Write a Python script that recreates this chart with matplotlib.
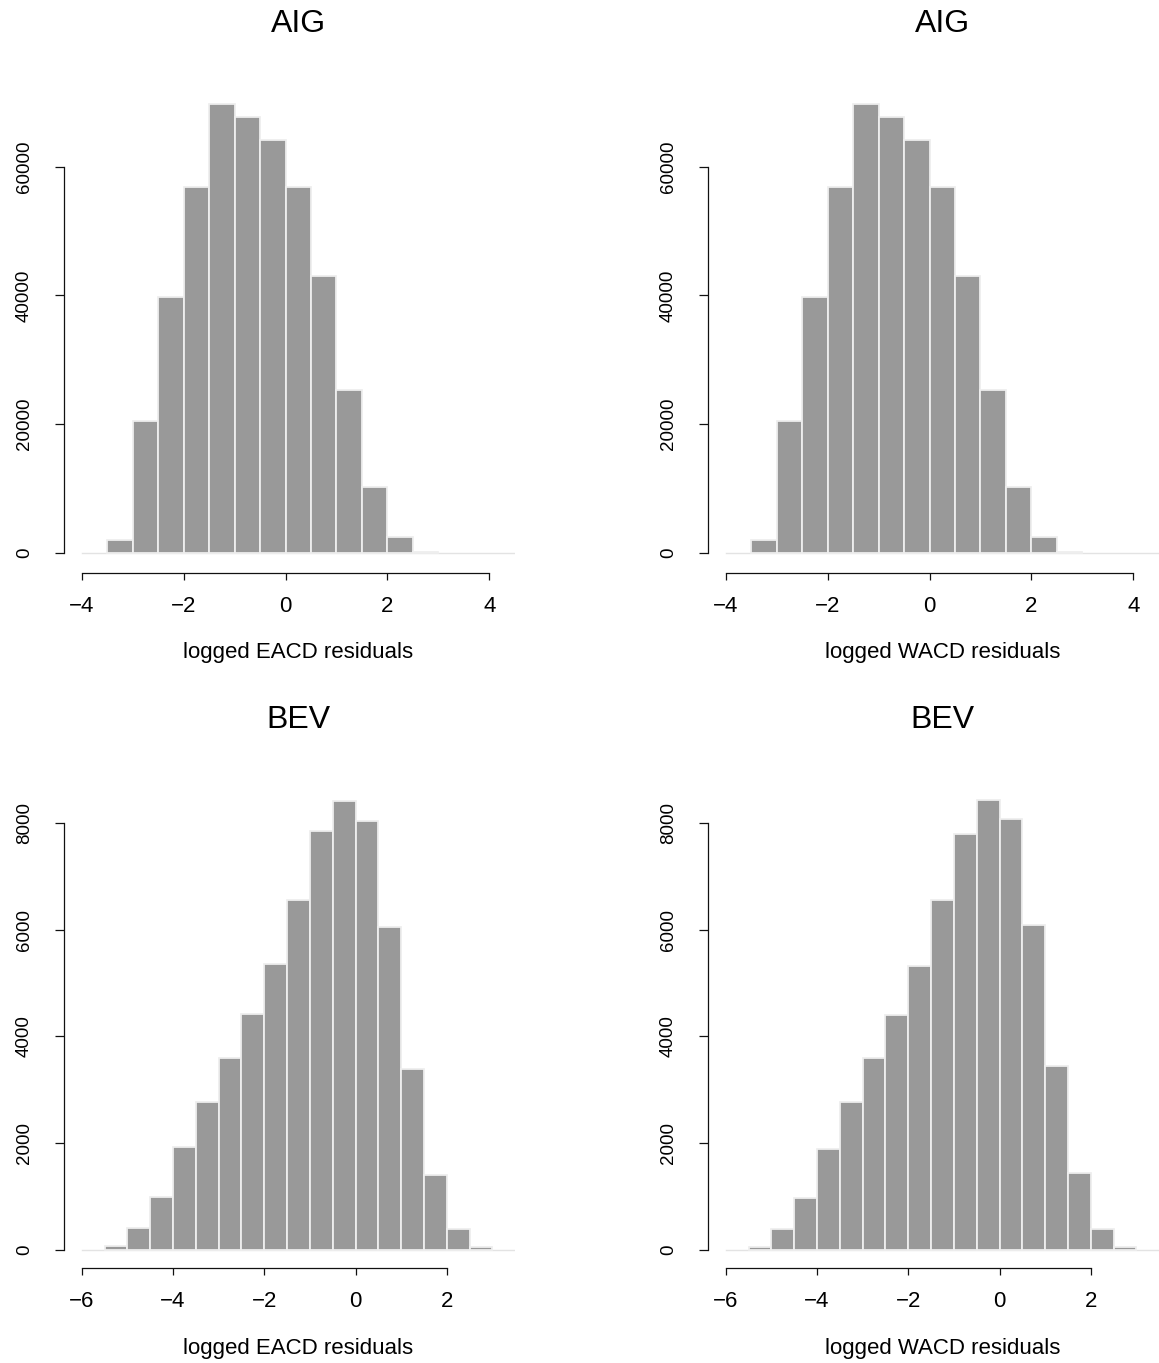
import numpy as np
import matplotlib
matplotlib.use("Agg")
import matplotlib.pyplot as plt

plt.rcParams['font.family'] = ['Liberation Sans', 'DejaVu Sans']
plt.rcParams['axes.unicode_minus'] = True

# ---------------- data ----------------
aig_edges = [-3.5, -3.0, -2.5, -2.0, -1.5, -1.0, -0.5, 0.0, 0.5, 1.0, 1.5, 2.0, 2.5, 3.0]
aig_eacd = [2050, 20450, 39800, 56900, 69700, 67700, 64100, 56900, 43100, 25300, 10250, 2450, 200]
aig_wacd = [2050, 20450, 39800, 56900, 69700, 67700, 64100, 56900, 43100, 25300, 10250, 2450, 200]

bev_edges = [-5.5, -5.0, -4.5, -4.0, -3.5, -3.0, -2.5, -2.0, -1.5, -1.0, -0.5,
             0.0, 0.5, 1.0, 1.5, 2.0, 2.5, 3.0]
bev_eacd = [69, 412, 998, 1934, 2771, 3601, 4412, 5354, 6559, 7838, 8406,
            8037, 6053, 3388, 1404, 387, 56]
bev_wacd = [56, 394, 981, 1894, 2762, 3600, 4394, 5325, 6544, 7781, 8419,
            8075, 6081, 3450, 1437, 394, 56]

titles = ["AIG", "AIG", "BEV", "BEV"]
xlabels = ["logged EACD residuals", "logged WACD residuals",
           "logged EACD residuals", "logged WACD residuals"]
aig_xticks = [-4, -2, 0, 2, 4]
aig_yticks = [0, 20000, 40000, 60000]
bev_xticks = [-6, -4, -2, 0, 2]
bev_yticks = [0, 2000, 4000, 6000, 8000]

# ---------------- layout (pixels) ----------------
W, H = 1159, 1363
DPI = 100
fig = plt.figure(figsize=(W / DPI, H / DPI), dpi=DPI)

BAR = '#999999'
EDGE = '#eeeeee'

col_dx = [0, 644]
rows = [
    dict(axis_y=572.7, y0=553.0, sy=386.3 / 60000, top=95, x0=285.5, sx=50.95,
         title_b=32.3, lab_b=658.3),
    dict(axis_y=1268.3, y0=1250.0, sy=427.3 / 8000, top=780, x0=355.5, sx=45.625,
         title_b=727.7, lab_b=1354.3),
]
YAX = 64.3      # y-axis line x (left column)
PL = 82.0       # plot region left
PR = 515.0      # plot region right

panels = [
    (0, 0, aig_edges, aig_eacd, aig_xticks, aig_yticks),
    (0, 1, aig_edges, aig_wacd, aig_xticks, aig_yticks),
    (1, 0, bev_edges, bev_eacd, bev_xticks, bev_yticks),
    (1, 1, bev_edges, bev_wacd, bev_xticks, bev_yticks),
]


def fmt(v):
    return ('\u2212' + str(-v)) if v < 0 else str(v)


for i, (r, c, edges, counts, xt, yt) in enumerate(panels):
    L = rows[r]
    dx = col_dx[c]
    left = YAX + dx
    right = PR + dx
    bottom = L['axis_y']
    top = L['top']
    ax = fig.add_axes([left / W, 1 - bottom / H, (right - left) / W, (bottom - top) / H])
    ax.set_xlim((YAX - L['x0']) / L['sx'], (PR - L['x0']) / L['sx'])
    ax.set_ylim((L['y0'] - bottom) / L['sy'], (L['y0'] - top) / L['sy'])

    e = np.array(edges, dtype=float)
    ax.axhline(0, xmin=(PL - YAX) / (PR - YAX), xmax=1, color='#e3e3e3', lw=1.0, zorder=0.5)
    ax.bar(e[:-1], counts, width=np.diff(e), align='edge', color=BAR,
           edgecolor=EDGE, linewidth=1.3, zorder=2)

    for s in ['top', 'right']:
        ax.spines[s].set_visible(False)
    ax.spines['left'].set_bounds(yt[0], yt[-1])
    ax.spines['bottom'].set_bounds(xt[0], xt[-1])
    for s in ['left', 'bottom']:
        ax.spines[s].set_linewidth(0.9)
        ax.spines[s].set_color('#111111')

    ax.set_xticks(xt)
    ax.set_xticklabels([fmt(v) for v in xt])
    ax.set_yticks(yt)
    ax.set_yticklabels([str(v) for v in yt], rotation=90, va='center')
    ax.tick_params(axis='x', length=5.2, width=0.9, pad=11.5, labelsize=16, color='#111111')
    ax.tick_params(axis='y', length=6.5, width=0.9, pad=16.0, labelsize=13.5, color='#111111')
    ax.set_facecolor('none')

    cx = ((PL + PR) / 2 + dx) / W
    fig.text(cx, 1 - L['title_b'] / H, titles[i], ha='center', va='baseline', fontsize=23)
    fig.text(cx, 1 - L['lab_b'] / H, xlabels[i], ha='center', va='baseline', fontsize=16)

fig.savefig("out.png", dpi=DPI, facecolor='white')
